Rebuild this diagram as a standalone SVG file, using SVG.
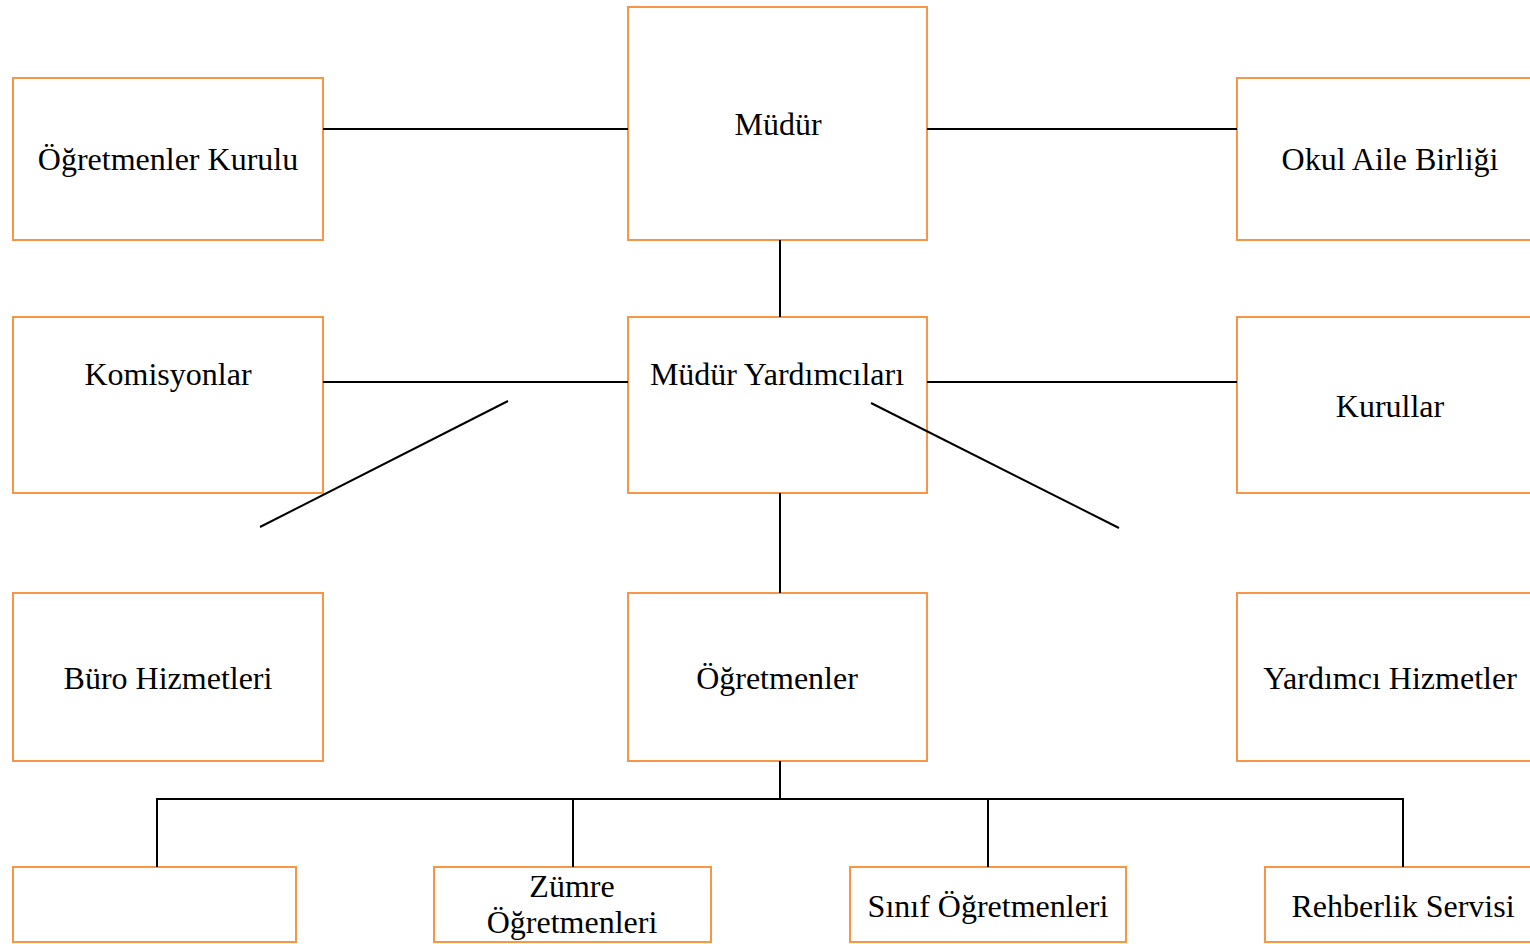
<svg xmlns="http://www.w3.org/2000/svg" width="1530" height="944" viewBox="0 0 1530 944">
<style>
.box{fill:none;stroke:#F79646;stroke-width:2}
.t{font-family:"Liberation Serif","Times New Roman",serif;font-size:32px;fill:#000;text-anchor:middle}
.c{stroke:#000;stroke-width:2;fill:none}
</style>
<rect width="1530" height="944" fill="#fff"/>
<g id="ogretmenler-kurulu"><rect class="box" x="13" y="78" width="310" height="162"/><text class="t" x="168" y="170">Öğretmenler Kurulu</text></g>
<g id="mudur"><rect class="box" x="628" y="7" width="299" height="233"/><text class="t" x="778" y="135">Müdür</text></g>
<g id="okul-aile-birligi"><rect class="box" x="1237" y="78" width="310" height="162"/><text class="t" x="1390" y="170">Okul Aile Birliği</text></g>
<g id="komisyonlar"><rect class="box" x="13" y="317" width="310" height="176"/><text class="t" x="168" y="385">Komisyonlar</text></g>
<g id="mudur-yardimcilari"><rect class="box" x="628" y="317" width="299" height="176"/><text class="t" x="777" y="385">Müdür Yardımcıları</text></g>
<g id="kurullar"><rect class="box" x="1237" y="317" width="310" height="176"/><text class="t" x="1390" y="417">Kurullar</text></g>
<g id="buro-hizmetleri"><rect class="box" x="13" y="593" width="310" height="168"/><text class="t" x="168" y="689">Büro Hizmetleri</text></g>
<g id="ogretmenler"><rect class="box" x="628" y="593" width="299" height="168"/><text class="t" x="777" y="689">Öğretmenler</text></g>
<g id="yardimci-hizmetler"><rect class="box" x="1237" y="593" width="310" height="168"/><text class="t" x="1390" y="689">Yardımcı Hizmetler</text></g>
<g id="bos"><rect class="box" x="13" y="867" width="283" height="75"/></g>
<g id="zumre"><rect class="box" x="434" y="867" width="277" height="75"/><text class="t" x="572" y="897">Zümre</text><text class="t" x="572" y="933">Öğretmenleri</text></g>
<g id="sinif"><rect class="box" x="850" y="867" width="276" height="75"/><text class="t" x="988" y="917">Sınıf Öğretmenleri</text></g>
<g id="rehberlik"><rect class="box" x="1265" y="867" width="277" height="75"/><text class="t" x="1403" y="917">Rehberlik Servisi</text></g>
<g id="connectors">
<line class="c" x1="323" y1="129" x2="628" y2="129"/>
<line class="c" x1="927" y1="129" x2="1237" y2="129"/>
<line class="c" x1="780" y1="240" x2="780" y2="317"/>
<line class="c" x1="323" y1="382" x2="628" y2="382"/>
<line class="c" x1="927" y1="382" x2="1237" y2="382"/>
<line class="c" x1="508" y1="401" x2="260" y2="527"/>
<line class="c" x1="871" y1="403" x2="1119" y2="528"/>
<line class="c" x1="780" y1="493" x2="780" y2="593"/>
<line class="c" x1="780" y1="761" x2="780" y2="799"/>
<polyline class="c" points="157,867 157,799 1403,799 1403,867"/>
<line class="c" x1="573" y1="799" x2="573" y2="867"/>
<line class="c" x1="988" y1="799" x2="988" y2="867"/>
</g>
</svg>
